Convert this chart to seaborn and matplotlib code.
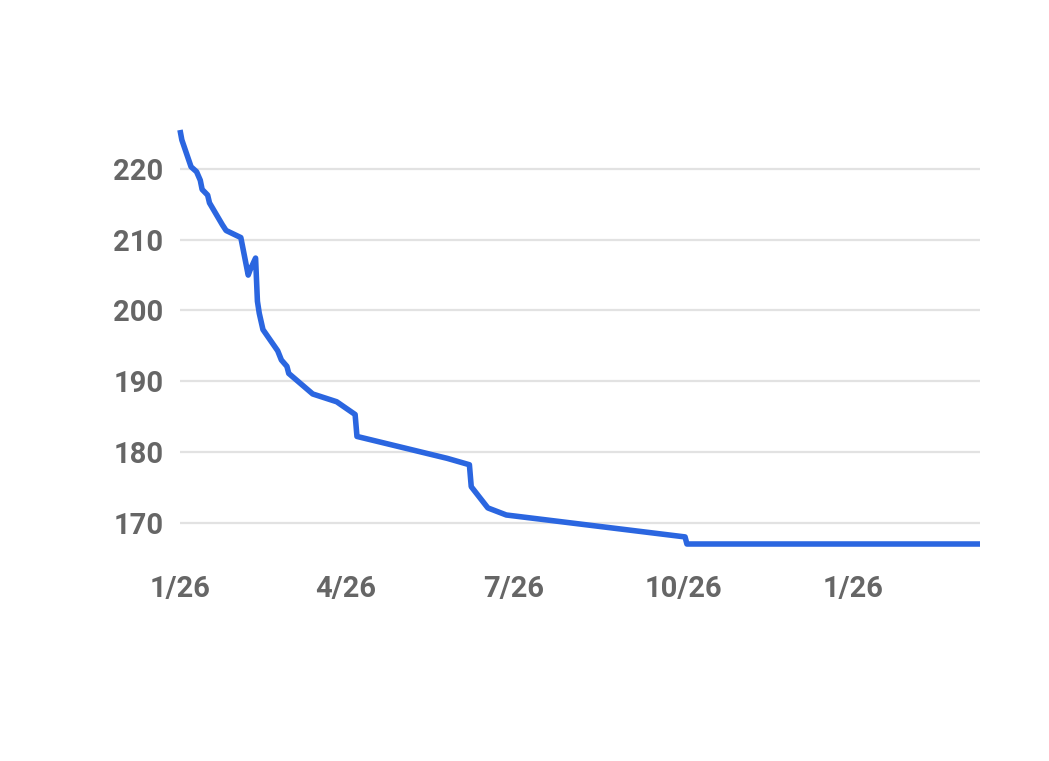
import pandas as pd
import numpy as np
import matplotlib
matplotlib.use("Agg")
import matplotlib.pyplot as plt
import matplotlib.dates as mdates
import seaborn as sns

# days since 1/26 and weight
days = [0, 1, 6, 9, 11, 12, 15, 16, 23, 25, 33, 37, 38, 41, 42, 43, 45,
        53, 55, 58, 59, 72, 85, 95, 96, 145, 157, 158, 167, 177, 274, 275, 434]
weight = [225.5, 224.1, 220.3, 219.6, 218.4, 217.1, 216.3, 215.2, 212.1, 211.3,
          210.3, 205.0, 205.7, 207.4, 201.3, 199.6, 197.3, 194.3, 193.0, 192.1,
          191.1, 188.2, 187.1, 185.3, 182.2, 179.1, 178.2, 175.1, 172.1, 171.1,
          168.0, 167.0, 167.0]
tick_dates = ["2019-01-26", "2019-04-26", "2019-07-26", "2019-10-26", "2020-01-26"]
tick_labels = ["1/26", "4/26", "7/26", "10/26", "1/26"]
y_ticks = [170, 180, 190, 200, 210, 220]

start = pd.Timestamp("2019-01-26")
df = pd.DataFrame({"date": [start + pd.Timedelta(days=d) for d in days],
                   "weight": weight})

sns.set_style("white")
plt.rcParams["font.family"] = ["Roboto", "DejaVu Sans"]

fig = plt.figure(figsize=(10.49, 7.61), dpi=100)
ax = fig.add_axes([180 / 1049, 1 - 544 / 761, 800 / 1049, 414 / 761])

sns.lineplot(data=df, x="date", y="weight", ax=ax, color="#2b66e0",
             linewidth=4, estimator=None, sort=False, clip_on=False, zorder=3,
             solid_capstyle="butt", solid_joinstyle="round")

ax.set_xlim(df["date"].min(), df["date"].max())
ax.set_ylim(min(weight), max(weight))
ax.set_yticks(y_ticks)
ax.set_xticks(pd.to_datetime(tick_dates))
ax.set_xticklabels(tick_labels)

ax.grid(axis="y", color="#e2e2e2", linewidth=1.6)
ax.grid(axis="x", visible=False)
for s in ax.spines.values():
    s.set_visible(False)

ax.tick_params(axis="both", length=0, labelsize=21, labelcolor="#666666")
ax.tick_params(axis="x", pad=22)
ax.tick_params(axis="y", pad=12)
for lbl in ax.get_xticklabels() + ax.get_yticklabels():
    lbl.set_fontweight("bold")

ax.set_xlabel("")
ax.set_ylabel("")

fig.savefig("out.png", dpi=100)
